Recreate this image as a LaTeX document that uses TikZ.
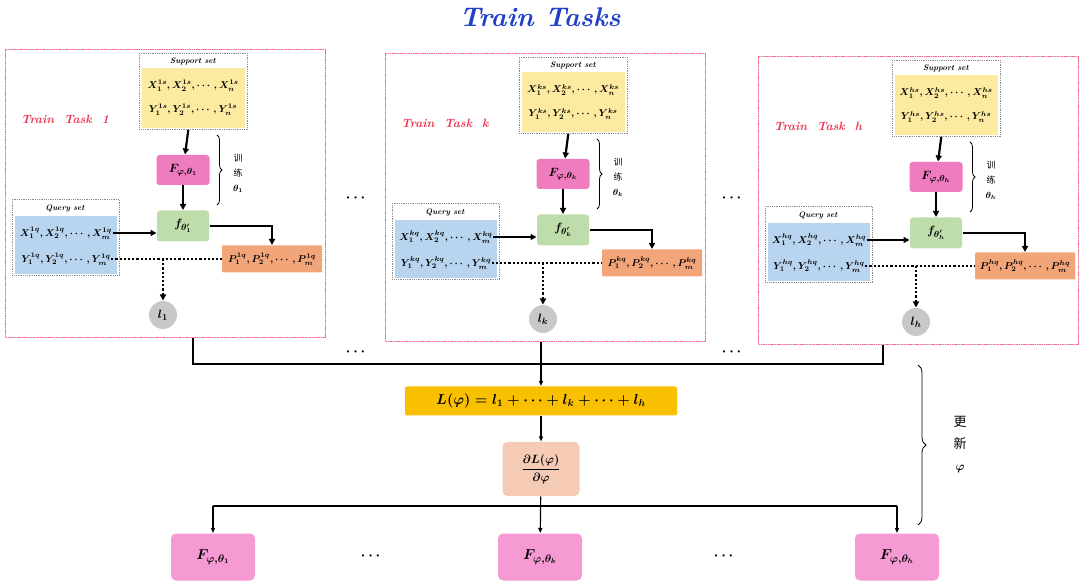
\documentclass[tikz,border=0pt]{standalone}
\usepackage{amsmath}
\usepackage{fontspec}
\newfontfamily\cjk{Noto Sans CJK SC}
\usetikzlibrary{arrows.meta, positioning, decorations.pathreplacing, calc}
\definecolor{cframe}{HTML}{F0708C}
\definecolor{cred}{HTML}{E8344E}
\definecolor{ctitle}{HTML}{2140C8}
\definecolor{cyellow}{HTML}{FBEAA0}
\definecolor{cpink}{HTML}{F07CC0}
\definecolor{cpinkb}{HTML}{F59AD2}
\definecolor{cgreen}{HTML}{BFDDAA}
\definecolor{cblue}{HTML}{B8D4EE}
\definecolor{corange}{HTML}{F3A57A}
\definecolor{ccircle}{HTML}{C8C8C8}
\definecolor{cgold}{HTML}{F8C000}
\definecolor{cpeach}{HTML}{F5CBB5}
\definecolor{cgrey}{HTML}{8C8C8C}
\tikzset{
  every picture/.style={line width=1pt},
  title/.style={font=\fontsize{27}{30}\selectfont\bfseries\itshape, text=ctitle},
  tasklabel/.style={font=\fontsize{12}{14}\selectfont\bfseries\itshape, text=cred},
  taskframe/.style={preaction={draw=cframe!40, solid, line width=1pt},
    draw=cframe, dash pattern=on 1.5pt off 0.8pt, line width=1.2pt, anchor=north west,
    minimum width=320pt, minimum height=288pt, inner sep=0pt},
  setframe/.style={draw=cgrey, densely dotted, line width=0.8pt, anchor=north west, inner sep=0pt},
  setlabel/.style={font=\fontsize{8}{9}\selectfont\bfseries\itshape, inner sep=1pt},
  rowtext/.style={font=\fontsize{10}{12}\selectfont\boldmath, inner sep=0pt},
  box/.style={fill=#1, rounded corners=3pt, inner sep=2pt, font=\fontsize{13}{15}\selectfont\boldmath},
  lcircle/.style={circle, fill=ccircle, minimum size=28pt, inner sep=0pt, font=\fontsize{13}{15}\selectfont\boldmath},
  arr/.style={-{Triangle[length=6pt, width=6pt]}, line width=2.2pt},
  dotline/.style={dotted, line width=2.2pt},
  thinarr/.style={-{Triangle[length=5pt, width=4pt]}, line width=1.2pt},
  brace/.style={decorate, decoration={brace, amplitude=#1}, line width=0.8pt},
  sidetext/.style={font=\fontsize{9}{15}\selectfont\cjk\boldmath, align=center},
  dots/.style={font=\fontsize{14}{16}\selectfont\bfseries},
}
\begin{document}
\begin{tikzpicture}[x=1pt, y=-1pt]
  \useasboundingbox (0,0) rectangle (1080,585);
  \node[title] (title) at (540,17) {Train Tasks};
  % the three train tasks
  \foreach \ox/\oy/\ti/\nm in {5/49/1/one, 385/53/k/k, 758/56/h/h} {
    \begin{scope}[shift={(\ox,\oy)}]
      \node[taskframe] (frame-\nm) at (0,0) {};
      \node[tasklabel] (name-\nm) at (60,70) {Train\ \ Task\ \ \ti};
      % support set
      \node[setframe, minimum width=108pt, minimum height=76pt] (sup-\nm) at (134,4) {};
      \node[setlabel] (suplabel-\nm) at (188,12) {Support set};
      \fill[cyellow] (137,19) rectangle (240,79);
      \node[rowtext] (sx-\nm) at (188,37) {$X_1^{\ti s},X_2^{\ti s},\cdots,X_n^{\ti s}$};
      \node[rowtext] (sy-\nm) at (188,61) {$Y_1^{\ti s},Y_2^{\ti s},\cdots,Y_n^{\ti s}$};
      % query set
      \node[setframe, minimum width=107pt, minimum height=76pt] (qry-\nm) at (7,150) {};
      \node[setlabel] (qrylabel-\nm) at (60,159) {Query set};
      \fill[cblue] (10,167) rectangle (112,225);
      \node[rowtext] (qx-\nm) at (61,184) {$X_1^{\ti q},X_2^{\ti q},\cdots,X_m^{\ti q}$};
      \node[rowtext] (qy-\nm) at (61,210) {$Y_1^{\ti q},Y_2^{\ti q},\cdots,Y_m^{\ti q}$};
      % model, adapted model, predictions, loss
      \node[box=cpink, minimum width=53pt, minimum height=30pt] (F-\nm) at (178,121) {$F_{\varphi,\theta_{\ti}}$};
      \node[box=cgreen, minimum width=52pt, minimum height=31pt] (f-\nm) at (178,177) {$f_{\theta'_{\ti}}$};
      \node[box=corange, minimum width=100pt, minimum height=27pt, rounded corners=1pt,
        font=\fontsize{10}{12}\selectfont\boldmath] (P-\nm) at (267,210) {$P_1^{\ti q},P_2^{\ti q},\cdots,P_m^{\ti q}$};
      \node[lcircle] (l-\nm) at (158,266) {$l_{\ti}$};
      \draw[brace=5pt] (212,86) -- (212,156);
      \node[sidetext] (train-\nm) at (233,124) {训\\练\\$\theta_{\ti}$};
      \draw[arr] (sup-\nm) -- (F-\nm);
      \draw[arr] (F-\nm) -- (f-\nm);
      \draw[arr] (qx-\nm.east) -- (qx-\nm.east -| f-\nm.west);
      \draw[arr] (f-\nm.east) -| (P-\nm.north);
      \draw[dotline] (qy-\nm.east) -- (P-\nm.west);
      \draw[dotline, -{Triangle[length=6pt, width=6pt]}] (l-\nm.north |- qy-\nm) -- (l-\nm.north);
    \end{scope}
  }
  \node[dots] at (357,198) {$\boldsymbol{\cdots}$};
  \node[dots] at (733,198) {$\boldsymbol{\cdots}$};
  \node[dots] at (357,352) {$\boldsymbol{\cdots}$};
  \node[dots] at (733,352) {$\boldsymbol{\cdots}$};
  % meta update
  \node[box=cgold, rounded corners=2pt, minimum width=272pt, minimum height=29pt,
    font=\fontsize{14}{16}\selectfont\boldmath] (L) at (541,401) {$L(\varphi)=l_1+\cdots+l_k+\cdots+l_h$};
  \node[box=cpeach, rounded corners=5pt, minimum width=77pt, minimum height=54pt,
    font=\fontsize{13}{15}\selectfont\boldmath] (dL) at (541,469) {$\dfrac{\partial L(\varphi)}{\partial\varphi}$};
  \node[box=cpinkb, rounded corners=5pt, minimum width=84pt, minimum height=47pt,
    font=\fontsize{15}{17}\selectfont\boldmath] (B1) at (213,557) {$F_{\varphi,\theta_1}$};
  \node[box=cpinkb, rounded corners=5pt, minimum width=84pt, minimum height=47pt,
    font=\fontsize{15}{17}\selectfont\boldmath] (Bk) at (540,557) {$F_{\varphi,\theta_k}$};
  \node[box=cpinkb, rounded corners=5pt, minimum width=84pt, minimum height=47pt,
    font=\fontsize{15}{17}\selectfont\boldmath] (Bh) at (897,557) {$F_{\varphi,\theta_h}$};
  \node[dots] at (372,556) {$\boldsymbol{\cdots}$};
  \node[dots] at (725,556) {$\boldsymbol{\cdots}$};
  \coordinate (jl) at (193,364);
  \coordinate (jr) at (883,364);
  \coordinate (dj) at (541,506);
  \draw[line width=1.2pt] (jl |- frame-one.south) -- (jl) -- (jr) -- (jr |- frame-h.south);
  \draw[thinarr] (L.north |- frame-k.south) -- (L.north);
  \draw[thinarr] (L) -- (dL);
  \draw[thinarr] (dL) -- (Bk);
  \draw[line width=1.2pt] (dj -| B1) -- (dj -| Bh);
  \draw[thinarr] (dj -| B1) -- (B1);
  \draw[thinarr] (dj -| Bh) -- (Bh);
  \draw[brace=8pt] (918,365) -- (918,525);
  \node[sidetext, font=\fontsize{13}{22}\selectfont\cjk\boldmath] (update) at (960,445) {更\\新\\$\varphi$};
\end{tikzpicture}
\end{document}
